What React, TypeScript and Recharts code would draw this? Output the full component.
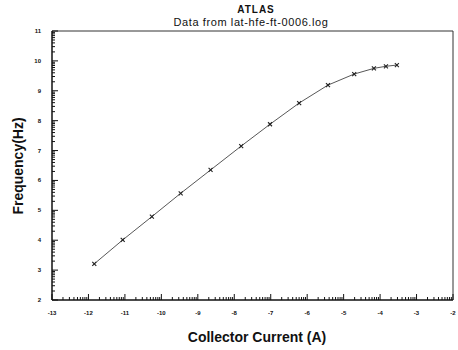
import React from "react";
import { LineChart, Line, XAxis, YAxis, ReferenceLine } from "recharts";

// log10 of collector current (A) and measured frequency
const current = [-11.84, -11.06, -10.26, -9.47, -8.65, -7.81, -7.02, -6.22, -5.43, -4.71, -4.17, -3.84, -3.54];
const frequency = [3.21, 4.01, 4.79, 5.57, 6.35, 7.15, 7.88, 8.59, 9.19, 9.56, 9.75, 9.82, 9.86];

const xMajor = [-13, -12, -11, -10, -9, -8, -7, -6, -5, -4, -3, -2];
const yMajor = [2, 3, 4, 5, 6, 7, 8, 9, 10, 11];
const minorSteps = [2, 3, 4, 5, 6, 7, 8, 9];

const data = current.map((x, i) => ({ x, y: frequency[i] }));

const xTicks = [
  ...xMajor,
  ...xMajor.slice(0, -1).flatMap((m) => minorSteps.map((k) => m + Math.log10(k))),
];
const yTicks = [
  ...yMajor,
  ...yMajor.slice(0, -1).flatMap((m) => minorSteps.map((k) => m + Math.log10(k))),
];

const font = "'Liberation Sans', Arial, sans-serif";

const XTick = (props: any) => {
  const { x, y, payload } = props;
  const v = payload.value;
  const major = Math.abs(v - Math.round(v)) < 1e-6;
  const axisY = y - 10;
  return (
    <g>
      <line x1={x} x2={x} y1={axisY} y2={axisY - (major ? 6 : 3)} stroke="#111" strokeWidth={1} />
      {major && (
        <text x={x} y={y + 5} textAnchor="middle" fontSize={6} fontWeight="bold" fontFamily={font} fill="#111">
          {Math.round(v)}
        </text>
      )}
    </g>
  );
};

const YTick = (props: any) => {
  const { x, y, payload } = props;
  const v = payload.value;
  const major = Math.abs(v - Math.round(v)) < 1e-6;
  const axisX = x + 10;
  return (
    <g>
      <line x1={axisX} x2={axisX + (major ? 6 : 3)} y1={y} y2={y} stroke="#111" strokeWidth={1} />
      {major && (
        <text x={x - 1} y={y + 2} textAnchor="end" fontSize={6} fontWeight="bold" fontFamily={font} fill="#111">
          {Math.round(v)}
        </text>
      )}
    </g>
  );
};

const Cross = (props: any) => {
  const { cx, cy } = props;
  if (cx == null || cy == null) return null;
  const s = 2;
  return (
    <g stroke="#222" strokeWidth={1.1}>
      <line x1={cx - s} y1={cy - s} x2={cx + s} y2={cy + s} />
      <line x1={cx - s} y1={cy + s} x2={cx + s} y2={cy - s} />
    </g>
  );
};

export default function App() {
  return (
    <div style={{ position: "absolute", left: 0, top: 0, width: 458, height: 350, background: "#fff", fontFamily: font }}>
      <div style={{ position: "absolute", left: 0, width: 458, top: 4, textAlign: "center", paddingLeft: 54, boxSizing: "border-box", fontSize: 10, fontWeight: "bold", letterSpacing: 1, color: "#111" }}>
        ATLAS
      </div>
      <div style={{ position: "absolute", left: 0, width: 458, top: 16, textAlign: "center", paddingLeft: 44, boxSizing: "border-box", fontSize: 11, letterSpacing: 0.6, color: "#111" }}>
        Data from lat-hfe-ft-0006.log
      </div>
      <div style={{ position: "absolute", left: 18, top: 166, transform: "translate(-50%, -50%) rotate(-90deg)", whiteSpace: "nowrap", fontSize: 14, fontWeight: "bold", color: "#111" }}>
        Frequency(Hz)
      </div>
      <div style={{ position: "absolute", left: 0, width: 458, top: 329, textAlign: "center", paddingLeft: 56, boxSizing: "border-box", fontSize: 14, fontWeight: "bold", color: "#111" }}>
        Collector Current (A)
      </div>
      <LineChart width={458} height={350} data={data} margin={{ top: 31, right: 5, left: 0, bottom: 0 }}>
        <XAxis
          dataKey="x"
          type="number"
          domain={[-13, -2]}
          ticks={xTicks}
          interval={0}
          tickLine={false}
          tickSize={0}
          tickMargin={10}
          tick={<XTick />}
          height={50}
          axisLine={{ stroke: "#111", strokeWidth: 1.5 }}
          allowDataOverflow
        />
        <YAxis
          dataKey="y"
          type="number"
          domain={[2, 11]}
          ticks={yTicks}
          interval={0}
          tickLine={false}
          tickSize={0}
          tickMargin={10}
          tick={<YTick />}
          width={52}
          axisLine={{ stroke: "#111", strokeWidth: 1.5 }}
          allowDataOverflow
        />
        <ReferenceLine y={11} stroke="#333" strokeWidth={1} ifOverflow="extendDomain" />
        <ReferenceLine x={-2} stroke="#333" strokeWidth={1} ifOverflow="extendDomain" />
        <Line
          type="linear"
          dataKey="y"
          stroke="#444"
          strokeWidth={0.9}
          dot={<Cross />}
          activeDot={false}
          isAnimationActive={false}
        />
      </LineChart>
    </div>
  );
}
